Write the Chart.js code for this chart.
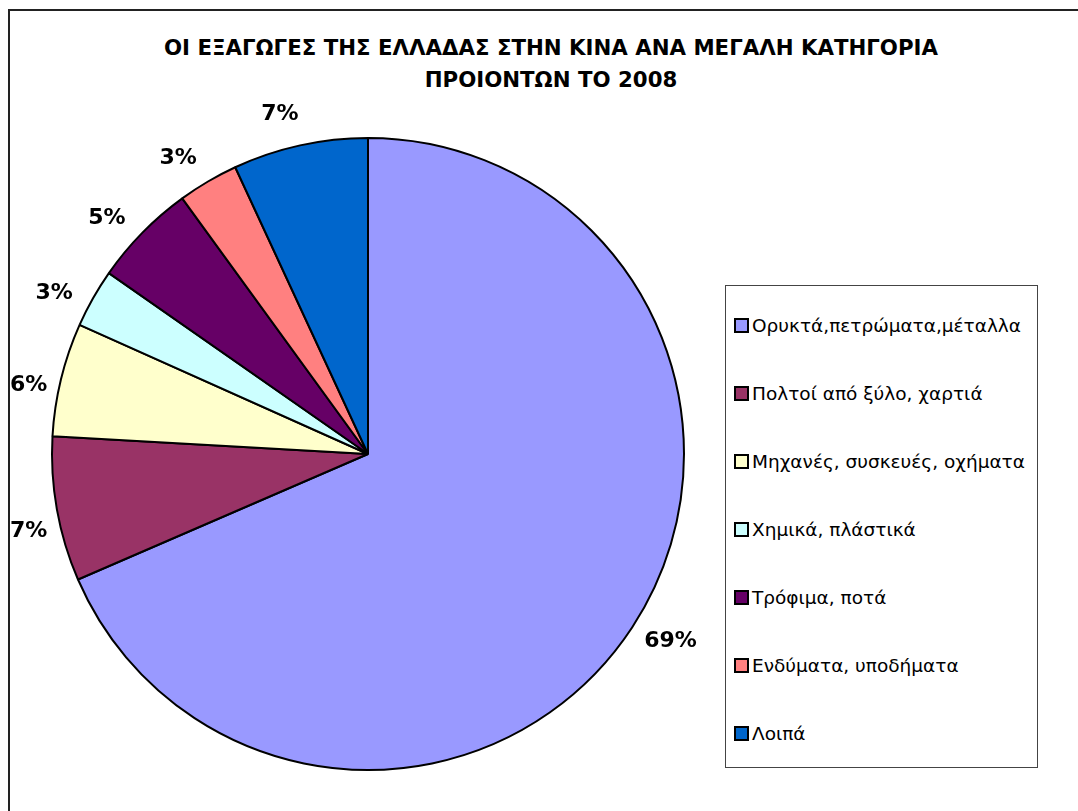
<!DOCTYPE html>
<html>
<head>
<meta charset="utf-8">
<script src="https://cdn.jsdelivr.net/npm/chart.js@4"></script>
<style>
  body { margin: 0; background: #fff; font-family: "DejaVu Sans", sans-serif; }
  #frame { position: absolute; left: 8px; top: 9px; width: 1100px; height: 900px; border: 2px solid #222; }
  #title { position: absolute; left: 12px; top: 32px; width: 1078px; text-align: center; font-weight: bold; font-size: 21.3px; line-height: 32px; }
  #chart { position: absolute; left: 0; top: 0; }
  #legend { position: absolute; left: 725px; top: 285px; width: 311px; height: 481px; border: 1px solid #444; background: #fff; }
  .item { position: absolute; left: 8px; font-size: 18.5px; height: 22px; line-height: 22px; white-space: nowrap; }
  .sw { display: inline-block; width: 11px; height: 11px; border: 2px solid #000; vertical-align: -1px; margin-right: 3px; }
</style>
</head>
<body>
<div id="frame"></div>
<div id="title">ΟΙ ΕΞΑΓΩΓΕΣ ΤΗΣ ΕΛΛΑΔΑΣ ΣΤΗΝ ΚΙΝΑ ΑΝΑ ΜΕΓΑΛΗ ΚΑΤΗΓΟΡΙΑ<br>ΠΡΟΙΟΝΤΩΝ ΤΟ 2008</div>
<canvas id="chart" width="1078" height="811"></canvas>
<div id="legend"></div>
<script>
// Categories and shares (%)
const categories = [
    'Ορυκτά,πετρώματα,μέταλλα',
    'Πολτοί από ξύλο, χαρτιά',
    'Μηχανές, συσκευές, οχήματα',
    'Χημικά, πλάστικά',
    'Τρόφιμα, ποτά',
    'Ενδύματα, υποδήματα',
    'Λοιπά'
];
const shares = [68.5, 7.4, 5.8, 3.0, 5.3, 3.1, 6.9];
const colors = ['#9999FF', '#993366', '#FFFFCC', '#CCFFFF', '#660066', '#FF8080', '#0066CC'];

// Build the legend
const legend = document.getElementById('legend');
categories.forEach((name, i) => {
    const div = document.createElement('div');
    div.className = 'item';
    div.style.top = (29 + i * 68) + 'px';
    div.innerHTML = `<span class="sw" style="background:${colors[i]}"></span>${name}`;
    legend.appendChild(div);
});

// Percent labels outside the slices
const outsideLabels = {
    id: 'outsideLabels',
    afterDatasetsDraw(chart) {
        const ctx = chart.ctx;
        const meta = chart.getDatasetMeta(0);
        ctx.save();
        ctx.font = 'bold 22px "DejaVu Sans", sans-serif';
        ctx.fillStyle = '#000';
        ctx.textAlign = 'center';
        ctx.textBaseline = 'middle';
        meta.data.forEach((arc, i) => {
            // excel nudges the labels a little counter-clockwise
            const mid = (arc.startAngle + arc.endAngle) / 2 - 2 * Math.PI / 180;
            const r = arc.outerRadius + 38;
            const text = Math.round(shares[i]) + '%';
            const half = ctx.measureText(text).width / 2;
            const x = Math.max(arc.x + Math.cos(mid) * r, 10 + half);
            const y = arc.y + Math.sin(mid) * r + 3;
            ctx.fillText(text, x, y);
        });
        ctx.restore();
    }
};

new Chart(document.getElementById('chart').getContext('2d'), {
    type: 'pie',
    data: {
        labels: categories,
        datasets: [{
            data: shares,
            backgroundColor: colors,
            borderColor: '#000',
            borderWidth: 2
        }]
    },
    options: {
        responsive: false,
        animation: false,
        layout: { padding: { left: 51, right: 393, top: 137, bottom: 40 } },
        plugins: {
            legend: { display: false },
            title: { display: false },
            tooltip: { enabled: false }
        }
    },
    plugins: [outsideLabels]
});
</script>
</body>
</html>
